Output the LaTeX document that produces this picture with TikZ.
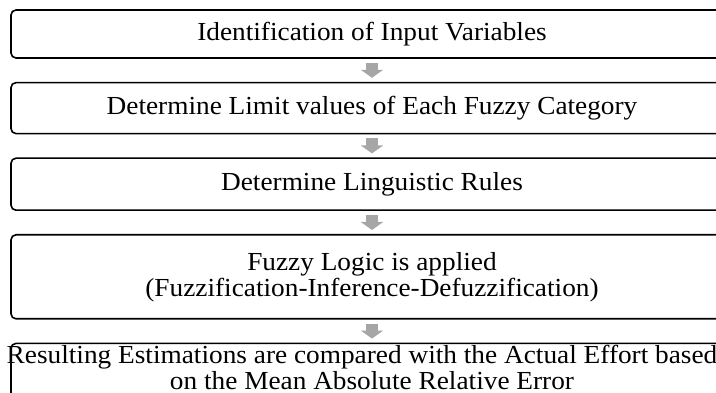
\documentclass[tikz,border=0pt]{standalone}
\usepackage{fontspec}
\setmainfont[FakeStretch=1.05]{Liberation Serif}
\usetikzlibrary{positioning,arrows.meta}
\definecolor{arrowgray}{HTML}{A6A6A6}
\tikzset{
  stage/.style={draw, line width=1.6pt, rounded corners=5pt, minimum width=722pt,
    align=center, inner sep=0pt, font=\fontsize{26}{26}\selectfont},
  flow/.style={line width=12pt, draw=arrowgray, -{Triangle[width=22pt,length=8pt]},
    shorten <=4pt, shorten >=4pt}
}
\begin{document}
\begin{tikzpicture}[x=1pt, y=1pt, node distance=23pt]
                \clip (0,0) rectangle (716,-393);
                \node[stage, minimum height=48pt] (input) at (372,-34) {Identification of Input Variables};
                \node[stage, minimum height=51pt, below=of input] (limits) {Determine Limit values of Each Fuzzy Category};
                \node[stage, minimum height=52pt, below=of limits] (rules) {Determine Linguistic Rules};
                \node[stage, minimum height=84pt, below=of rules] (logic) {Fuzzy Logic is applied\\(Fuzzification-Inference-Defuzzification)};
                % text runs over the box edges here
                \node[stage, inner ysep=2pt, below=of logic] (result) {\kern-10pt Resulting Estimations are compared with the Actual Effort based\kern10pt\\on the Mean Absolute Relative Error\rule[-16pt]{0pt}{0pt}};
                \draw[flow] (input) -- (limits);
                \draw[flow] (limits) -- (rules);
                \draw[flow] (rules) -- (logic);
                \draw[flow] (logic) -- (result);
\end{tikzpicture}
\end{document}
